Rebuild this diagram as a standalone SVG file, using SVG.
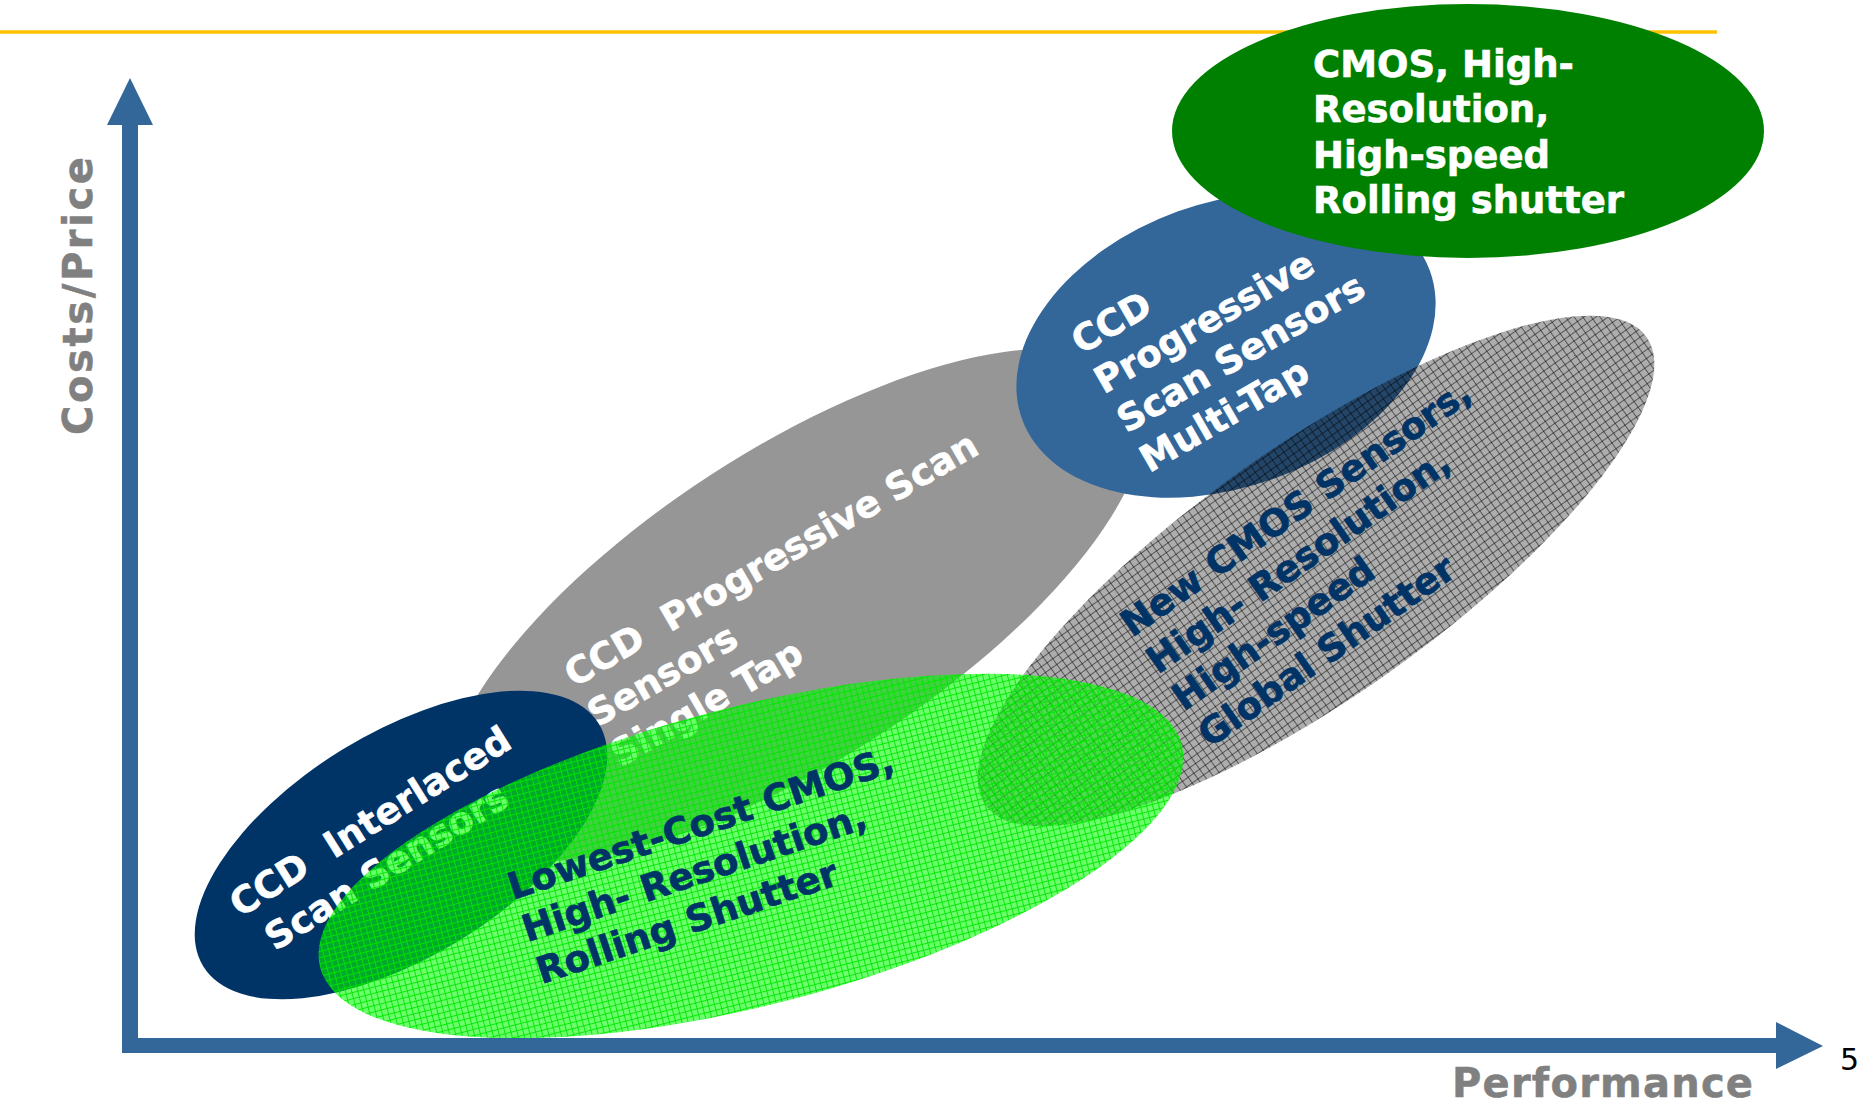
<svg xmlns="http://www.w3.org/2000/svg" width="1861" height="1105" viewBox="0 0 1861 1105">
  <style>
    .lbl { font-family: "DejaVu Sans", Verdana, sans-serif; font-weight: bold; font-size: 37px; stroke-width: 0.6px; }
    .w { fill: #ffffff; stroke: #ffffff; }
    .d { fill: #003366; stroke: #003366; }
    .axislbl { font-family: "DejaVu Sans", Verdana, sans-serif; font-weight: bold; font-size: 40px; fill: #808080; stroke: #808080; stroke-width: 0.5px; }
    .axis { fill: #336699; }
  </style>
  <defs>
    <pattern id="gridGreen" width="6" height="6" patternUnits="userSpaceOnUse">
      <rect width="6" height="6" fill="#00ff00" fill-opacity="0.58"/>
      <path d="M0 0.5H6M0.5 0V6" stroke="#00e600" stroke-opacity="0.9" stroke-width="1" fill="none"/>
    </pattern>
    <pattern id="gridGray" width="7" height="7" patternUnits="userSpaceOnUse">
      <rect width="7" height="7" fill="#000000" fill-opacity="0.32"/>
      <path d="M0 0.5H7M0.5 0V7" stroke="#000000" stroke-opacity="0.5" stroke-width="1" fill="none"/>
    </pattern>
  </defs>

  <rect width="1861" height="1105" fill="#ffffff"/>
  <line x1="0" y1="32" x2="1717" y2="32" stroke="#FFC000" stroke-width="3.5"/>

  <g id="ccd-progressive-single">
    <ellipse cx="795" cy="605" rx="405" ry="155" transform="rotate(-33 795 605)" fill="#969696"/>
    <text class="lbl w" transform="translate(574 688) rotate(-30)">
      <tspan x="0" y="0" xml:space="preserve">CCD  Progressive Scan</tspan>
      <tspan x="0" y="46">Sensors</tspan>
      <tspan x="0" y="92">Single Tap</tspan>
    </text>
  </g>

  <g id="ccd-interlaced">
    <ellipse cx="401" cy="845" rx="232" ry="112" transform="rotate(-31.5 401 845)" fill="#003366"/>
    <text class="lbl w" transform="translate(240 918) rotate(-32)">
      <tspan x="0" y="0" xml:space="preserve">CCD  Interlaced</tspan>
      <tspan x="12" y="47">Scan Sensors</tspan>
    </text>
  </g>

  <g id="ccd-progressive-multi">
    <ellipse cx="1226" cy="345" rx="217" ry="142" transform="rotate(-20 1226 345)" fill="#336699"/>
    <text class="lbl w" transform="translate(1081 355) rotate(-30)">
      <tspan x="0" y="0">CCD</tspan>
      <tspan x="0" y="45.5">Progressive</tspan>
      <tspan x="0" y="91">Scan Sensors</tspan>
      <tspan x="0" y="136.5">Multi-Tap</tspan>
    </text>
  </g>

  <g id="cmos-rolling">
    <ellipse cx="1468" cy="131" rx="296" ry="127" fill="#008000"/>
    <text class="lbl w">
      <tspan x="1313" y="77">CMOS, High-</tspan>
      <tspan x="1313" y="122.3">Resolution,</tspan>
      <tspan x="1313" y="167.6">High-speed</tspan>
      <tspan x="1313" y="213">Rolling shutter</tspan>
    </text>
  </g>

  <g id="new-cmos-global">
    <ellipse cx="1316" cy="571" rx="405" ry="125" transform="rotate(-35.3 1316 571)" fill="url(#gridGray)"/>
    <text class="lbl d" transform="translate(1132 638) rotate(-35)">
      <tspan x="0" y="0">New CMOS Sensors,</tspan>
      <tspan x="0" y="45">High- Resolution,</tspan>
      <tspan x="0" y="90">High-speed</tspan>
      <tspan x="0" y="135">Global Shutter</tspan>
    </text>
  </g>

  <g id="lowest-cost-cmos">
    <ellipse cx="751" cy="856" rx="445" ry="149" transform="rotate(-14.5 751 856)" fill="url(#gridGreen)"/>
    <text class="lbl d" transform="translate(513 900) rotate(-18.6)">
      <tspan x="0" y="0">Lowest-Cost CMOS,</tspan>
      <tspan x="0" y="44.5">High- Resolution,</tspan>
      <tspan x="0" y="89">Rolling Shutter</tspan>
    </text>
  </g>

  <g id="axes">
    <rect class="axis" x="122" y="124" width="16" height="929"/>
    <polygon class="axis" points="107,125 153,125 130,78"/>
    <rect class="axis" x="122" y="1038" width="1656" height="15"/>
    <polygon class="axis" points="1776,1022 1776,1069 1823,1046"/>
  </g>

  <text class="axislbl" transform="translate(92 435) rotate(-90)" textLength="278" lengthAdjust="spacing">Costs/Price</text>
  <text class="axislbl" x="1452" y="1097" textLength="301" lengthAdjust="spacing">Performance</text>
  <text x="1840" y="1070" font-family="'DejaVu Sans', Verdana, sans-serif" font-size="30" fill="#000000">5</text>
</svg>
